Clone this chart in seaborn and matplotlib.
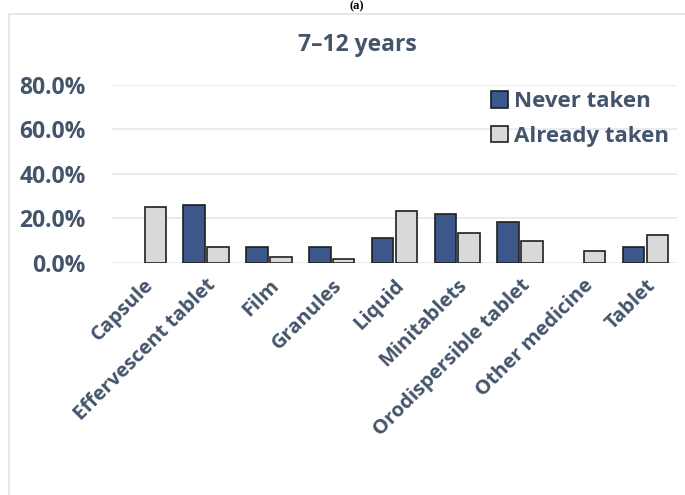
import matplotlib
matplotlib.use('Agg')
import matplotlib.pyplot as plt
import numpy as np
import pandas as pd
import seaborn as sns
from matplotlib.patches import Rectangle

# Data (percent of children, 7-12 years)
forms = ['Capsule', 'Effervescent tablet', 'Film', 'Granules', 'Liquid',
         'Minitablets', 'Orodispersible tablet', 'Other medicine', 'Tablet']
never_taken = [np.nan, 26.0, 7.4, 7.4, 11.1, 22.2, 18.5, np.nan, 7.4]
already_taken = [25.0, 7.1, 2.7, 1.8, 23.2, 13.4, 9.8, 5.4, 12.5]
groups = ['Never taken', 'Already taken']

df = pd.DataFrame({
    'form': forms * 2,
    'group': [groups[0]] * len(forms) + [groups[1]] * len(forms),
    'value': never_taken + already_taken,
})

sns.set_style('white')
plt.rcParams['font.family'] = ['Open Sans', 'DejaVu Sans']
plt.rcParams['font.weight'] = 'bold'
txt = '#44546A'

fig = plt.figure(figsize=(6.85, 4.95), dpi=100)
ax = fig.add_axes([0.1635, 0.4687, 0.8248, 0.3596])

# outer panel border
fig.patches.append(Rectangle((9 / 685, -0.1), 1.2, 1 - 14 / 495 + 0.1,
                             transform=fig.transFigure, fill=False,
                             edgecolor='#DEE3EC', linewidth=1.2))

sns.barplot(data=df, x='form', y='value', hue='group', order=forms,
            hue_order=groups, palette=['#2F5597', '#D9D9D9'],
            width=0.76, gap=0.1, edgecolor='#1F1F1F', linewidth=1.2,
            errorbar=None, ax=ax)

ax.set_ylim(0, 80)
ax.set_yticks([0, 20, 40, 60, 80])
ax.set_yticklabels([f'{v:.1f}%' for v in [0, 20, 40, 60, 80]],
                   fontsize=16.5, color=txt, fontweight='bold')
ax.set_xticks(range(len(forms)))
ax.set_xticklabels(forms, rotation=45, ha='right', rotation_mode='anchor',
                   fontsize=14.5, color=txt, fontweight='bold')
ax.tick_params(axis='y', length=0, pad=19)
ax.tick_params(axis='x', length=0, pad=9)
ax.set_xlabel('')
ax.set_ylabel('')
ax.set_xlim(-0.5, len(forms) - 0.5)
ax.yaxis.grid(True, color='#E4E8F0', linewidth=1.2)
ax.set_axisbelow(True)
for s in ax.spines.values():
    s.set_visible(False)

leg = ax.legend(loc='upper right', bbox_to_anchor=(1.01, 1.04), frameon=False,
                fontsize=16, handlelength=0.75, handleheight=0.75,
                handletextpad=0.3, labelspacing=0.6, borderaxespad=0.2)
for t in leg.get_texts():
    t.set_color(txt)
    t.set_fontweight('bold')

fig.text(0.521, 1 - 45 / 495, '7\u201312 years', ha='center', va='center',
         fontsize=16.5, color=txt, fontweight='bold')
fig.text(0.521, 0.999, '(a)', ha='center', va='top', fontsize=9,
         family='Liberation Serif', fontweight='bold', color='black')

fig.savefig('out.png', dpi=100)
